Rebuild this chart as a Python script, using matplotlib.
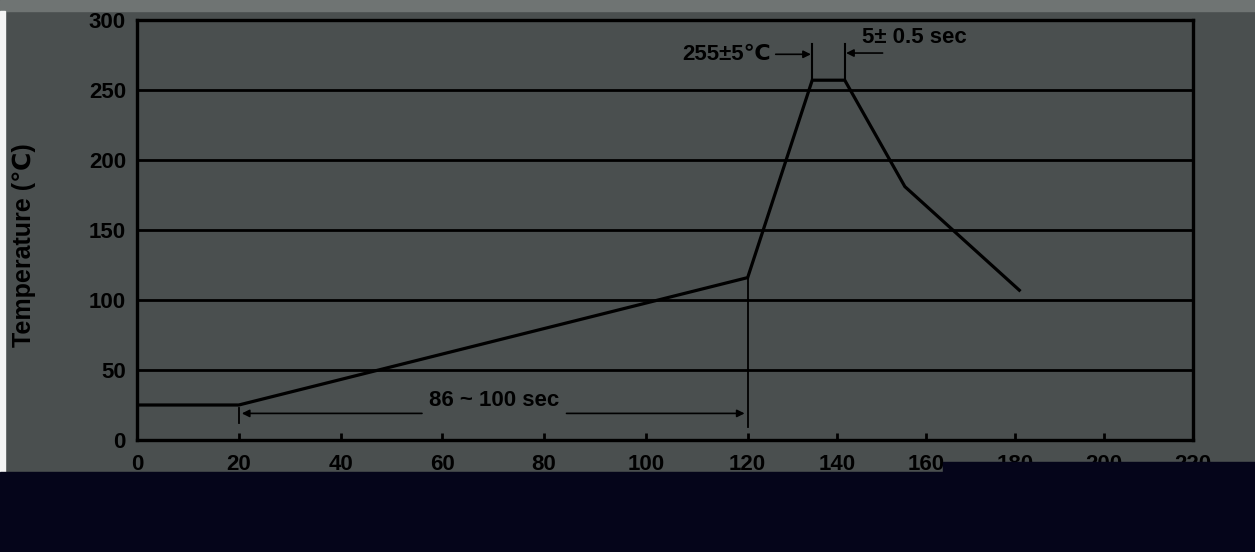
import numpy as np
import matplotlib
matplotlib.use("Agg")
import matplotlib.pyplot as plt
from matplotlib.patches import Rectangle

# ---- data ----
time_s = [0, 20, 120, 134.5, 141.8, 155.3, 181]
temp_c = [25, 25, 116, 257, 257, 181, 107]
x_ticks = [0, 20, 40, 60, 80, 100, 120, 140, 160, 180, 200, 220]
y_ticks = [0, 50, 100, 150, 200, 250, 300]
y_label = "Temperature (\u2103)"
peak_label = "255\u00b15\u2103"
dwell_label = "5\u00b1 0.5 sec"
preheat_label = "86 ~ 100 sec"

BG = "#4a4f4f"
FONT = ["Liberation Sans", "DejaVu Sans"]
plt.rcParams["font.family"] = FONT
plt.rcParams["font.weight"] = "bold"

# piecewise x scale (right part of original axis is compressed)
R = 89.0 / 101.7
def fwd(x):
    x = np.asarray(x, dtype=float)
    return np.where(x <= 120, x, 120 + (x - 120) * R)
def inv(y):
    y = np.asarray(y, dtype=float)
    return np.where(y <= 120, y, 120 + (y - 120) / R)

fig = plt.figure(figsize=(12.55, 5.52), dpi=100, facecolor=BG)
ax = fig.add_axes([137 / 1255, 1 - 440 / 552, (1193 - 137) / 1255, (440 - 20) / 552])
ax.set_facecolor(BG)
ax.set_xscale("function", functions=(fwd, inv))
ax.set_xlim(0, 220)
ax.set_ylim(0, 300)

for y in y_ticks[1:]:
    ax.axhline(y, color="black", lw=2.0, zorder=1)

ax.plot(time_s, temp_c, color="black", lw=2.3, zorder=3, solid_joinstyle="miter")

for s in ax.spines.values():
    s.set_color("black")
    s.set_linewidth(2.4)

ax.set_xticks(x_ticks)
ax.set_yticks(y_ticks)
ax.tick_params(axis="x", direction="in", length=5, width=2, pad=10,
               labelsize=16, labelcolor="black", color="black")
ax.tick_params(axis="y", length=0, pad=8, labelsize=16, labelcolor="black")
for lab in ax.get_xticklabels() + ax.get_yticklabels():
    lab.set_fontweight("bold")

fig.text(24 / 1255, 1 - 245 / 552, y_label, rotation=90, ha="center", va="center",
         fontsize=18, fontweight="bold", color="black")

ap = dict(arrowstyle="-|>", lw=1.2, color="black", mutation_scale=11,
          shrinkA=0, shrinkB=0)

# preheat annotation
ax.plot([20, 20], [12, 23], color="black", lw=1.3)
ax.plot([120, 120], [9, 116], color="black", lw=1.3)
ax.annotate("", xy=(20.6, 19), xytext=(56, 19), arrowprops=ap)
ax.annotate("", xy=(119.4, 19), xytext=(84.4, 19), arrowprops=ap)
ax.text(70.2, 28, preheat_label, ha="center", va="center", fontsize=16,
        fontweight="bold", color="black")

# peak annotations
ax.plot([134.5, 134.5], [257, 283], color="black", lw=1.5)
ax.plot([141.8, 141.8], [257, 283], color="black", lw=1.5)
ax.annotate("", xy=(134.2, 275.5), xytext=(126.3, 275.5), arrowprops=ap)
ax.annotate("", xy=(142.1, 276.4), xytext=(150.3, 276.4), arrowprops=ap)
ax.text(125.3, 275.5, peak_label, ha="right", va="center", fontsize=16,
        fontweight="bold", color="black")
ax.text(145.6, 287.5, dwell_label, ha="left", va="center", fontsize=16,
        fontweight="bold", color="black")

# scan artefacts around the figure
fig.add_artist(Rectangle((0, 1 - 11 / 552), 1, 11 / 552, transform=fig.transFigure,
                         color="#6f7473", zorder=-1))
fig.add_artist(Rectangle((0, 0), 5 / 1255, 1 - 11 / 552, transform=fig.transFigure,
                         color="#f4f4f4", zorder=-1))
fig.add_artist(Rectangle((0, 0), 1, 80 / 552, transform=fig.transFigure,
                         color="#05051a", zorder=10))
fig.add_artist(Rectangle((943 / 1255, 0), 1 - 943 / 1255, 90 / 552,
                         transform=fig.transFigure, color="#05051a", zorder=10))

fig.savefig("out.png", dpi=100, facecolor=BG)
